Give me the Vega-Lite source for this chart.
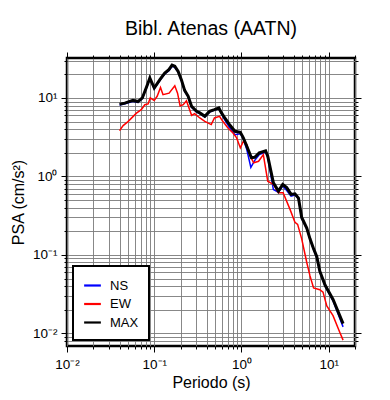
{
  "$schema": "https://vega.github.io/schema/vega-lite/v6.json",
  "width": 288,
  "height": 288,
  "autosize": {"type": "none"},
  "padding": {"left": 67, "top": 58, "right": 35, "bottom": 54},
  "background": "white",
  "title": {"text": "Bibl. Atenas (AATN)", "font": "Liberation Sans", "fontSize": 19.5, "fontWeight": "normal", "color": "black", "anchor": "middle", "offset": 12},
  "datasets": {
    "psa": [
      {"T": 0.04, "PSA": 8.1, "comp": "NS"},
      {"T": 0.046, "PSA": 8.4, "comp": "NS"},
      {"T": 0.057, "PSA": 9.1, "comp": "NS"},
      {"T": 0.065, "PSA": 8.8, "comp": "NS"},
      {"T": 0.073, "PSA": 9.8, "comp": "NS"},
      {"T": 0.082, "PSA": 13.7, "comp": "NS"},
      {"T": 0.089, "PSA": 17.6, "comp": "NS"},
      {"T": 0.1, "PSA": 13.1, "comp": "NS"},
      {"T": 0.116, "PSA": 16.7, "comp": "NS"},
      {"T": 0.132, "PSA": 20.3, "comp": "NS"},
      {"T": 0.147, "PSA": 22.3, "comp": "NS"},
      {"T": 0.16, "PSA": 25.3, "comp": "NS"},
      {"T": 0.172, "PSA": 24.6, "comp": "NS"},
      {"T": 0.188, "PSA": 21.3, "comp": "NS"},
      {"T": 0.205, "PSA": 16.6, "comp": "NS"},
      {"T": 0.223, "PSA": 12.2, "comp": "NS"},
      {"T": 0.245, "PSA": 10.3, "comp": "NS"},
      {"T": 0.268, "PSA": 7.6, "comp": "NS"},
      {"T": 0.306, "PSA": 6.6, "comp": "NS"},
      {"T": 0.333, "PSA": 6.3, "comp": "NS"},
      {"T": 0.38, "PSA": 5.7, "comp": "NS"},
      {"T": 0.43, "PSA": 6.6, "comp": "NS"},
      {"T": 0.49, "PSA": 7.0, "comp": "NS"},
      {"T": 0.55, "PSA": 7.3, "comp": "NS"},
      {"T": 0.59, "PSA": 6.3, "comp": "NS"},
      {"T": 0.64, "PSA": 5.3, "comp": "NS"},
      {"T": 0.73, "PSA": 4.2, "comp": "NS"},
      {"T": 0.84, "PSA": 3.4, "comp": "NS"},
      {"T": 0.97, "PSA": 3.5, "comp": "NS"},
      {"T": 1.05, "PSA": 3.0, "comp": "NS"},
      {"T": 1.15, "PSA": 2.2, "comp": "NS"},
      {"T": 1.28, "PSA": 1.3, "comp": "NS"},
      {"T": 1.42, "PSA": 1.6, "comp": "NS"},
      {"T": 1.6, "PSA": 1.9, "comp": "NS"},
      {"T": 1.89, "PSA": 2.05, "comp": "NS"},
      {"T": 2.0, "PSA": 1.75, "comp": "NS"},
      {"T": 2.32, "PSA": 0.68, "comp": "NS"},
      {"T": 2.65, "PSA": 0.63, "comp": "NS"},
      {"T": 2.97, "PSA": 0.76, "comp": "NS"},
      {"T": 3.3, "PSA": 0.66, "comp": "NS"},
      {"T": 3.7, "PSA": 0.56, "comp": "NS"},
      {"T": 4.1, "PSA": 0.58, "comp": "NS"},
      {"T": 4.5, "PSA": 0.52, "comp": "NS"},
      {"T": 4.9, "PSA": 0.29, "comp": "NS"},
      {"T": 5.6, "PSA": 0.215, "comp": "NS"},
      {"T": 6.1, "PSA": 0.157, "comp": "NS"},
      {"T": 6.7, "PSA": 0.117, "comp": "NS"},
      {"T": 7.3, "PSA": 0.093, "comp": "NS"},
      {"T": 7.9, "PSA": 0.061, "comp": "NS"},
      {"T": 9.1, "PSA": 0.04, "comp": "NS"},
      {"T": 11.2, "PSA": 0.026, "comp": "NS"},
      {"T": 14.6, "PSA": 0.0121, "comp": "NS"},

      {"T": 0.04, "PSA": 3.84, "comp": "EW"},
      {"T": 0.044, "PSA": 4.45, "comp": "EW"},
      {"T": 0.05, "PSA": 5.0, "comp": "EW"},
      {"T": 0.0625, "PSA": 6.4, "comp": "EW"},
      {"T": 0.071, "PSA": 7.1, "comp": "EW"},
      {"T": 0.078, "PSA": 8.2, "comp": "EW"},
      {"T": 0.085, "PSA": 8.4, "comp": "EW"},
      {"T": 0.09, "PSA": 10.0, "comp": "EW"},
      {"T": 0.0998, "PSA": 9.3, "comp": "EW"},
      {"T": 0.108, "PSA": 10.5, "comp": "EW"},
      {"T": 0.118, "PSA": 13.6, "comp": "EW"},
      {"T": 0.126, "PSA": 11.0, "comp": "EW"},
      {"T": 0.148, "PSA": 11.5, "comp": "EW"},
      {"T": 0.172, "PSA": 14.3, "comp": "EW"},
      {"T": 0.185, "PSA": 11.5, "comp": "EW"},
      {"T": 0.198, "PSA": 7.9, "comp": "EW"},
      {"T": 0.215, "PSA": 8.2, "comp": "EW"},
      {"T": 0.234, "PSA": 9.2, "comp": "EW"},
      {"T": 0.268, "PSA": 6.0, "comp": "EW"},
      {"T": 0.29, "PSA": 6.3, "comp": "EW"},
      {"T": 0.333, "PSA": 5.56, "comp": "EW"},
      {"T": 0.38, "PSA": 5.04, "comp": "EW"},
      {"T": 0.45, "PSA": 4.58, "comp": "EW"},
      {"T": 0.49, "PSA": 5.56, "comp": "EW"},
      {"T": 0.56, "PSA": 5.83, "comp": "EW"},
      {"T": 0.61, "PSA": 5.04, "comp": "EW"},
      {"T": 0.7, "PSA": 4.15, "comp": "EW"},
      {"T": 0.8, "PSA": 3.58, "comp": "EW"},
      {"T": 0.88, "PSA": 3.1, "comp": "EW"},
      {"T": 0.97, "PSA": 2.31, "comp": "EW"},
      {"T": 1.05, "PSA": 2.8, "comp": "EW"},
      {"T": 1.15, "PSA": 2.55, "comp": "EW"},
      {"T": 1.26, "PSA": 1.81, "comp": "EW"},
      {"T": 1.38, "PSA": 1.49, "comp": "EW"},
      {"T": 1.57, "PSA": 1.56, "comp": "EW"},
      {"T": 1.78, "PSA": 1.9, "comp": "EW"},
      {"T": 2.0, "PSA": 0.87, "comp": "EW"},
      {"T": 2.32, "PSA": 0.79, "comp": "EW"},
      {"T": 2.65, "PSA": 0.62, "comp": "EW"},
      {"T": 3.0, "PSA": 0.62, "comp": "EW"},
      {"T": 3.6, "PSA": 0.38, "comp": "EW"},
      {"T": 4.1, "PSA": 0.26, "comp": "EW"},
      {"T": 4.4, "PSA": 0.245, "comp": "EW"},
      {"T": 4.9, "PSA": 0.16, "comp": "EW"},
      {"T": 5.6, "PSA": 0.08, "comp": "EW"},
      {"T": 6.1, "PSA": 0.054, "comp": "EW"},
      {"T": 6.7, "PSA": 0.038, "comp": "EW"},
      {"T": 7.9, "PSA": 0.036, "comp": "EW"},
      {"T": 8.6, "PSA": 0.0335, "comp": "EW"},
      {"T": 9.5, "PSA": 0.0224, "comp": "EW"},
      {"T": 11.2, "PSA": 0.0168, "comp": "EW"},
      {"T": 13.3, "PSA": 0.0105, "comp": "EW"},
      {"T": 14.6, "PSA": 0.0082, "comp": "EW"},

      {"T": 0.04, "PSA": 8.3, "comp": "MAX"},
      {"T": 0.046, "PSA": 8.6, "comp": "MAX"},
      {"T": 0.057, "PSA": 9.3, "comp": "MAX"},
      {"T": 0.065, "PSA": 9.0, "comp": "MAX"},
      {"T": 0.073, "PSA": 10.0, "comp": "MAX"},
      {"T": 0.082, "PSA": 14.0, "comp": "MAX"},
      {"T": 0.089, "PSA": 18.0, "comp": "MAX"},
      {"T": 0.1, "PSA": 13.4, "comp": "MAX"},
      {"T": 0.116, "PSA": 17.1, "comp": "MAX"},
      {"T": 0.132, "PSA": 20.8, "comp": "MAX"},
      {"T": 0.147, "PSA": 22.9, "comp": "MAX"},
      {"T": 0.16, "PSA": 26.2, "comp": "MAX"},
      {"T": 0.172, "PSA": 25.3, "comp": "MAX"},
      {"T": 0.188, "PSA": 21.8, "comp": "MAX"},
      {"T": 0.205, "PSA": 17.0, "comp": "MAX"},
      {"T": 0.223, "PSA": 12.5, "comp": "MAX"},
      {"T": 0.245, "PSA": 10.5, "comp": "MAX"},
      {"T": 0.268, "PSA": 7.8, "comp": "MAX"},
      {"T": 0.306, "PSA": 6.75, "comp": "MAX"},
      {"T": 0.333, "PSA": 6.45, "comp": "MAX"},
      {"T": 0.38, "PSA": 5.83, "comp": "MAX"},
      {"T": 0.43, "PSA": 6.75, "comp": "MAX"},
      {"T": 0.49, "PSA": 7.1, "comp": "MAX"},
      {"T": 0.55, "PSA": 7.45, "comp": "MAX"},
      {"T": 0.59, "PSA": 6.45, "comp": "MAX"},
      {"T": 0.64, "PSA": 5.6, "comp": "MAX"},
      {"T": 0.73, "PSA": 4.58, "comp": "MAX"},
      {"T": 0.84, "PSA": 3.76, "comp": "MAX"},
      {"T": 0.97, "PSA": 3.65, "comp": "MAX"},
      {"T": 1.05, "PSA": 3.1, "comp": "MAX"},
      {"T": 1.15, "PSA": 2.42, "comp": "MAX"},
      {"T": 1.3, "PSA": 1.73, "comp": "MAX"},
      {"T": 1.42, "PSA": 1.75, "comp": "MAX"},
      {"T": 1.6, "PSA": 2.0, "comp": "MAX"},
      {"T": 1.89, "PSA": 2.12, "comp": "MAX"},
      {"T": 2.0, "PSA": 1.81, "comp": "MAX"},
      {"T": 2.32, "PSA": 0.83, "comp": "MAX"},
      {"T": 2.65, "PSA": 0.65, "comp": "MAX"},
      {"T": 2.97, "PSA": 0.79, "comp": "MAX"},
      {"T": 3.3, "PSA": 0.72, "comp": "MAX"},
      {"T": 3.7, "PSA": 0.59, "comp": "MAX"},
      {"T": 4.1, "PSA": 0.6, "comp": "MAX"},
      {"T": 4.5, "PSA": 0.53, "comp": "MAX"},
      {"T": 4.9, "PSA": 0.3, "comp": "MAX"},
      {"T": 5.6, "PSA": 0.22, "comp": "MAX"},
      {"T": 6.1, "PSA": 0.16, "comp": "MAX"},
      {"T": 6.7, "PSA": 0.12, "comp": "MAX"},
      {"T": 7.3, "PSA": 0.095, "comp": "MAX"},
      {"T": 7.9, "PSA": 0.062, "comp": "MAX"},
      {"T": 9.1, "PSA": 0.041, "comp": "MAX"},
      {"T": 11.2, "PSA": 0.027, "comp": "MAX"},
      {"T": 14.6, "PSA": 0.0133, "comp": "MAX"}
    ]
  },
  "data": {"name": "psa"},
  "config": {
    "view": {"stroke": "black", "strokeWidth": 2.5},
    "font": "Liberation Sans",
    "axis": {
      "domain": false,
      "grid": true,
      "gridColor": "#7a7a7a",
      "gridWidth": 0.9,
      "gridOpacity": 1,
      "tickColor": "black",
      "tickWidth": 1,
      "labelFont": "Liberation Sans",
      "labelFontSize": 13.5,
      "labelColor": "black",
      "titleFont": "Liberation Sans",
      "titleFontSize": 16,
      "titleFontWeight": "normal",
      "titleColor": "black"
    },
    "legend": {
      "orient": "none",
      "legendX": 6,
      "legendY": 208,
      "title": null,
      "fillColor": "white",
      "strokeColor": "black",
      "strokeWidth": 2,
      "padding": 10,
      "symbolType": "stroke",
      "symbolSize": 280,
      "symbolStrokeWidth": 2.2,
      "labelFont": "Liberation Sans",
      "labelFontSize": 13,
      "labelColor": "black",
      "labelOffset": 8,
      "rowPadding": 1.5
    }
  },
  "layer": [
    {
      "transform": [{"filter": "datum.comp === 'NS'"}],
      "mark": {"type": "line", "strokeWidth": 1.5},
      "encoding": {
        "x": {
          "field": "T", "type": "quantitative",
          "scale": {"type": "log", "domain": [0.01, 20], "nice": false},
          "title": "Periodo (s)",
          "axis": {
            "orient": "bottom",
            "values": [0.01, 0.02, 0.03, 0.04, 0.05, 0.06, 0.07, 0.08, 0.09, 0.1, 0.2, 0.3, 0.4, 0.5, 0.6, 0.7, 0.8, 0.9, 1, 2, 3, 4, 5, 6, 7, 8, 9, 10, 20],
            "labelExpr": "datum.value == 0.01 ? '10⁻²' : datum.value == 0.1 ? '10⁻¹' : datum.value == 1 ? '10⁰' : datum.value == 10 ? '10¹' : ''",
            "tickSize": {"condition": {"test": "indexof([0.01, 0.1, 1, 10], datum.value) >= 0", "value": 6}, "value": 3},
            "labelPadding": 5,
            "titlePadding": 4,
            "labelFlush": false,
            "labelOverlap": false
          }
        },
        "y": {
          "field": "PSA", "type": "quantitative",
          "scale": {"type": "log", "domain": [0.0069, 32.3], "nice": false},
          "title": "PSA (cm/s²)",
          "axis": {
            "orient": "left",
            "values": [0.008, 0.009, 0.01, 0.02, 0.03, 0.04, 0.05, 0.06, 0.07, 0.08, 0.09, 0.1, 0.2, 0.3, 0.4, 0.5, 0.6, 0.7, 0.8, 0.9, 1, 2, 3, 4, 5, 6, 7, 8, 9, 10, 20, 30],
            "labelExpr": "datum.value == 0.01 ? '10⁻²' : datum.value == 0.1 ? '10⁻¹' : datum.value == 1 ? '10⁰' : datum.value == 10 ? '10¹' : ''",
            "tickSize": {"condition": {"test": "indexof([0.01, 0.1, 1, 10], datum.value) >= 0", "value": 6}, "value": 3},
            "labelPadding": 4,
            "titlePadding": 6,
            "labelFlush": false,
            "labelOverlap": false
          }
        },
        "color": {
          "field": "comp", "type": "nominal",
          "scale": {"domain": ["NS", "EW", "MAX"], "range": ["#0000ff", "#ff0000", "#000000"]},
          "legend": {"labelExpr": "datum.label + '\u00a0\u00a0\u00a0'"}
        }
      }
    },
    {
      "transform": [{"filter": "datum.comp === 'EW'"}],
      "mark": {"type": "line", "strokeWidth": 1.5},
      "encoding": {
        "x": {"field": "T", "type": "quantitative", "scale": {"type": "log", "domain": [0.01, 20], "nice": false}, "axis": null},
        "y": {"field": "PSA", "type": "quantitative", "scale": {"type": "log", "domain": [0.0069, 32.3], "nice": false}, "axis": null},
        "color": {"field": "comp", "type": "nominal", "scale": {"domain": ["NS", "EW", "MAX"], "range": ["#0000ff", "#ff0000", "#000000"]}}
      }
    },
    {
      "transform": [{"filter": "datum.comp === 'MAX'"}],
      "mark": {"type": "line", "strokeWidth": 3},
      "encoding": {
        "x": {"field": "T", "type": "quantitative", "scale": {"type": "log", "domain": [0.01, 20], "nice": false}, "axis": null},
        "y": {"field": "PSA", "type": "quantitative", "scale": {"type": "log", "domain": [0.0069, 32.3], "nice": false}, "axis": null},
        "color": {"field": "comp", "type": "nominal", "scale": {"domain": ["NS", "EW", "MAX"], "range": ["#0000ff", "#ff0000", "#000000"]}}
      }
    },
    {
      "mark": {"type": "point", "opacity": 0},
      "encoding": {
        "x": {
          "field": "T", "type": "quantitative",
          "scale": {"type": "log", "domain": [0.01, 20], "nice": false},
          "axis": {
            "orient": "top", "title": null, "labels": false, "grid": false,
            "values": [0.01, 0.02, 0.03, 0.04, 0.05, 0.06, 0.07, 0.08, 0.09, 0.1, 0.2, 0.3, 0.4, 0.5, 0.6, 0.7, 0.8, 0.9, 1, 2, 3, 4, 5, 6, 7, 8, 9, 10, 20],
            "tickSize": {"condition": {"test": "indexof([0.01, 0.1, 1, 10], datum.value) >= 0", "value": 6}, "value": 3}
          }
        },
        "y": {
          "field": "PSA", "type": "quantitative",
          "scale": {"type": "log", "domain": [0.0069, 32.3], "nice": false},
          "axis": {
            "orient": "right", "title": null, "labels": false, "grid": false,
            "values": [0.008, 0.009, 0.01, 0.02, 0.03, 0.04, 0.05, 0.06, 0.07, 0.08, 0.09, 0.1, 0.2, 0.3, 0.4, 0.5, 0.6, 0.7, 0.8, 0.9, 1, 2, 3, 4, 5, 6, 7, 8, 9, 10, 20, 30],
            "tickSize": {"condition": {"test": "indexof([0.01, 0.1, 1, 10], datum.value) >= 0", "value": 6}, "value": 3}
          }
        }
      }
    }
  ],
  "resolve": {"axis": {"x": "independent", "y": "independent"}}
}
